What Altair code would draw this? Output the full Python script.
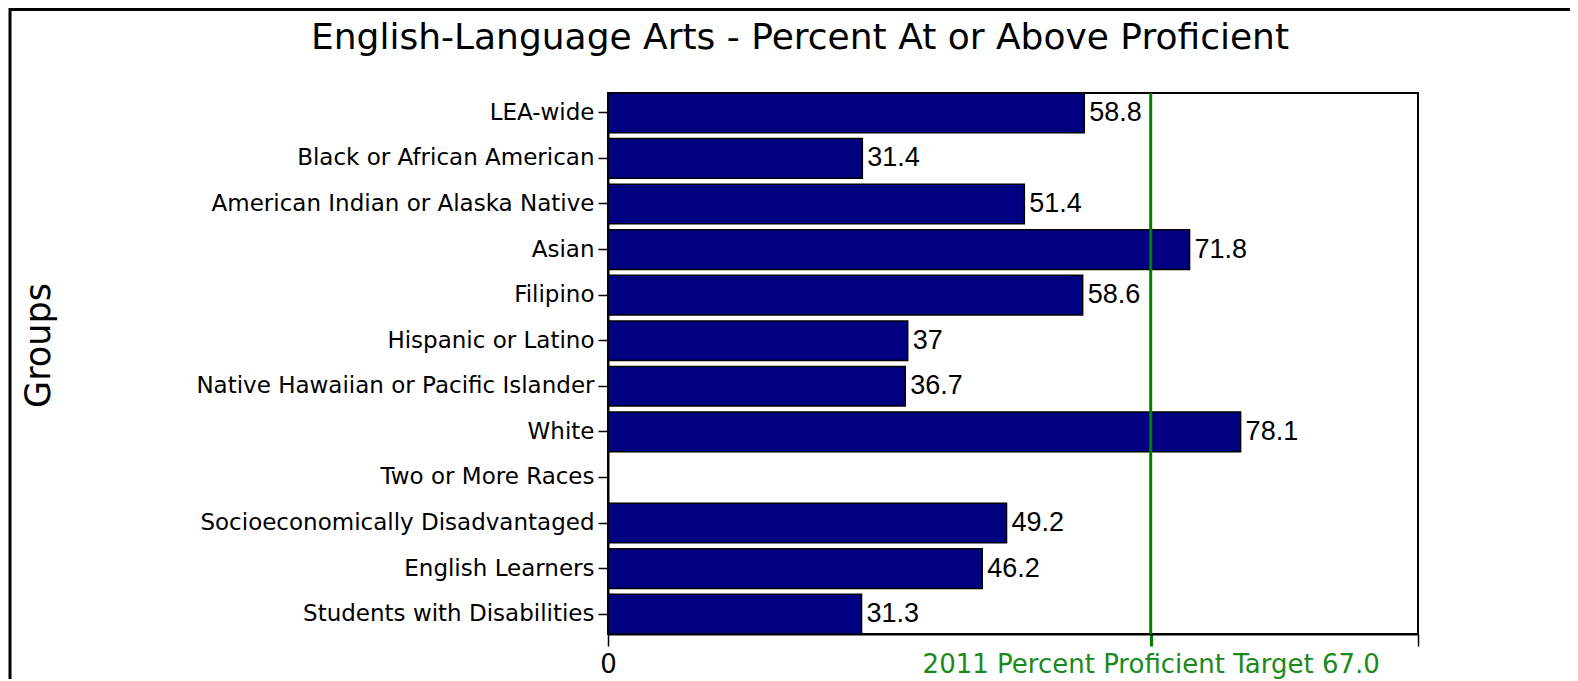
import altair as alt
import pandas as pd

groups = [
    "LEA-wide",
    "Black or African American",
    "American Indian or Alaska Native",
    "Asian",
    "Filipino",
    "Hispanic or Latino",
    "Native Hawaiian or Pacific Islander",
    "White",
    "Two or More Races",
    "Socioeconomically Disadvantaged",
    "English Learners",
    "Students with Disabilities",
]
values = [58.8, 31.4, 51.4, 71.8, 58.6, 37, 36.7, 78.1, None, 49.2, 46.2, 31.3]
target = [67.0]
target_label = "2011 Percent Proficient Target 67.0"
x_ticks = [0, 67, 100]

df = pd.DataFrame({
    "group": groups,
    "value": values,
    "label": [("" if v is None else f"{v:g}") for v in values],
})
df_target = pd.DataFrame({"target": target})

W, H = 810, 541
PAD_L, PAD_T = 600, 85

y_enc = alt.Y(
    "group:N",
    scale=alt.Scale(domain=groups, paddingInner=0.13, paddingOuter=0),
    sort=groups,
    axis=alt.Axis(
        title="Groups",
        titleFont="DejaVu Sans",
        titleFontSize=35,
        titleFontWeight="normal",
        titleColor="black",
        titleAngle=270,
        titleAlign="center",
        titleBaseline="middle",
        titleX=-570,
        titleY=252,
        labelFont="DejaVu Sans",
        labelFontSize=23,
        labelColor="black",
        labelPadding=4,
        tickSize=10,
        tickColor="black",
        tickWidth=1.5,
        domainColor="black",
        domainWidth=2,
        labelLimit=600,
    ),
)

x_enc = alt.X(
    "value:Q",
    scale=alt.Scale(domain=[0, 100], nice=False),
    axis=alt.Axis(
        title=None,
        values=x_ticks,
        labelExpr=f"datum.value == 0 ? '0' : (datum.value == 67 ? '{target_label}' : '')",
        labelColor={"expr": "datum.value == 67 ? '#1a8a1a' : 'black'"},
        tickColor={"expr": "datum.value == 67 ? '#008000' : 'black'"},
        tickWidth={"expr": "datum.value == 67 ? 3 : 1.5"},
        labelFont="DejaVu Sans",
        labelFontSize=26,
        labelPadding=5,
        labelFlush=False,
        labelOverlap=False,
        labelLimit=800,
        tickSize=12,
        grid=False,
        domainColor="black",
        domainWidth=2,
    ),
)

bars = alt.Chart(df).mark_bar(
    color="#000080", stroke="black", strokeWidth=1.5
).encode(x=x_enc, y=y_enc)

texts = alt.Chart(df).mark_text(
    align="left", baseline="middle", dx=5, fontSize=27,
    font="Liberation Sans", color="black"
).encode(x="value:Q", y=alt.Y("group:N", sort=groups), text="label:N")

rule = alt.Chart(df_target).mark_rule(color="#008000", strokeWidth=3).encode(
    x="target:Q"
)

frame_top = alt.Chart(df_target).mark_rule(color="black", strokeWidth=3).encode(
    x=alt.value(-PAD_L + 2), x2=alt.value(W + 200), y=alt.value(-PAD_T + 1.5)
)
frame_left = alt.Chart(df_target).mark_rule(color="black", strokeWidth=3).encode(
    x=alt.value(-PAD_L + 2), y=alt.value(-PAD_T), y2=alt.value(H + 200)
)

chart = alt.layer(bars, texts, rule, frame_top, frame_left).properties(
    width=W,
    height=H,
    title=alt.TitleParams(
        "English-Language Arts - Percent At or Above Proficient",
        font="DejaVu Sans",
        fontSize=36,
        fontWeight="normal",
        color="black",
        anchor="middle",
        frame="group",
        dx=-213,
        baseline="alphabetic",
        offset=-78,
    ),
    autosize=alt.AutoSizeParams(type="none"),
    padding={"left": PAD_L, "top": PAD_T, "right": 152, "bottom": 45},
    background="white",
).configure_view(stroke="black", strokeWidth=2)

chart.save("out.html", embed_options={"renderer": "svg", "actions": False})
